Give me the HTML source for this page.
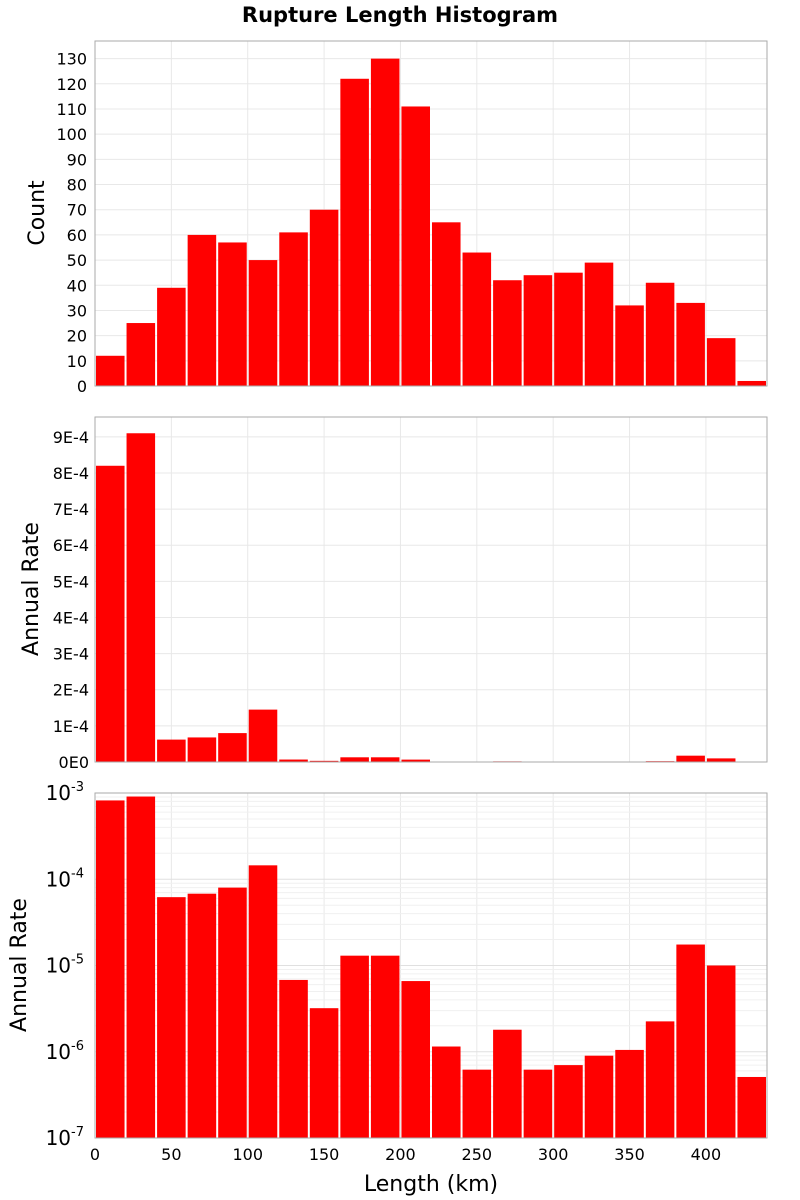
<!DOCTYPE html>
<html><head><meta charset="utf-8"><style>
body{margin:0;background:#fff}
svg{display:block;font-family:"DejaVu Sans","Liberation Sans",sans-serif}
</style></head><body>
<svg id="c" width="800" height="1200" xmlns="http://www.w3.org/2000/svg">
<text x="400" y="22" text-anchor="middle" font-size="21" font-weight="bold">Rupture Length Histogram</text>
</svg>
<script>
const binStarts=[0,20,40,60,80,100,120,140,160,180,200,220,240,260,280,300,320,340,360,380,400,420];
const counts=[12,25,39,60,57,50,61,70,122,130,111,65,53,42,44,45,49,32,41,33,19,2];
const rates=[8.2e-4,9.1e-4,6.2e-5,6.8e-5,8.0e-5,1.45e-4,6.8e-6,3.2e-6,1.3e-5,1.3e-5,6.6e-6,1.15e-6,6.2e-7,1.8e-6,6.2e-7,7.0e-7,9.0e-7,1.05e-6,2.25e-6,1.75e-5,1.0e-5,5.1e-7];
const xTicks=[0,50,100,150,200,250,300,350,400];
const countTicks=[0,10,20,30,40,50,60,70,80,90,100,110,120,130];
const rateTicks=[0,1e-4,2e-4,3e-4,4e-4,5e-4,6e-4,7e-4,8e-4,9e-4];
const rateTickLabels=["0E0","1E-4","2E-4","3E-4","4E-4","5E-4","6E-4","7E-4","8E-4","9E-4"];
const logTicks=[-3,-4,-5,-6,-7];
const binWidth=20;
const svg=document.getElementById('c');
const NS='http://www.w3.org/2000/svg';
const L=95,R=767,XMAX=440;
const x=v=>L+v/XMAX*(R-L);
function el(t,a,p){const e=document.createElementNS(NS,t);for(const k in a)e.setAttribute(k,a[k]);(p||svg).appendChild(e);return e;}
const panels=[{top:41,bot:386},{top:417,bot:762},{top:793,bot:1138}];
const y1=v=>386-v/137*(386-41);
const y2=v=>762-v/9.55e-4*(762-417);
const y3=v=>793+(-3-Math.log10(v))*(1138-793)/4;
panels.forEach((p,i)=>{
  xTicks.forEach(t=>{const g=el('line',{x1:x(t),x2:x(t),y1:p.top,y2:p.bot,stroke:'#e8e8e8'});
  });
});
countTicks.forEach(t=>{const g=el('line',{x1:L,x2:R,y1:y1(t),y2:y1(t),stroke:'#e8e8e8'});
 const tx=el('text',{x:87,y:y1(t)+6,'text-anchor':'end','font-size':16});tx.textContent=t;});
rateTicks.forEach((t,i)=>{const g=el('line',{x1:L,x2:R,y1:y2(t),y2:y2(t),stroke:'#e8e8e8'});
 const tx=el('text',{x:89,y:y2(t)+6,'text-anchor':'end','font-size':16});tx.textContent=rateTickLabels[i];});
for(let d=-7;d<-3;d++){for(let m=2;m<10;m++){const v=m*Math.pow(10,d);const g=el('line',{x1:L,x2:R,y1:y3(v),y2:y3(v),stroke:'#f0f0f0'});}}
logTicks.forEach(d=>{const v=Math.pow(10,d);const g=el('line',{x1:L,x2:R,y1:y3(v),y2:y3(v),stroke:'#e0e0e0'});
 const tx=el('text',{x:84,y:y3(v)+7,'text-anchor':'end','font-size':20});
 const a=el('tspan',{},tx);a.textContent='10';const b=el('tspan',{dy:-9,'font-size':13},tx);b.textContent=String(d);});
binStarts.forEach((s,i)=>{
 const bx=x(s)+1,bw=x(s+binWidth)-x(s)-2;
 const b1=el('rect',{x:bx,y:y1(counts[i]),width:bw,height:386-y1(counts[i]),fill:'#ff0000'});
 const b2=el('rect',{x:bx,y:y2(rates[i]),width:bw,height:762-y2(rates[i]),fill:'#ff0000'});
 const yy=y3(rates[i]);const b3=el('rect',{x:bx,y:yy,width:bw,height:1138-yy,fill:'#ff0000'});
});
panels.forEach(p=>{const f=el('rect',{x:L,y:p.top,width:R-L,height:p.bot-p.top,fill:'none',stroke:'#aaa'});});
xTicks.forEach(t=>{const tx=el('text',{x:x(t),y:1160,'text-anchor':'middle','font-size':16});tx.textContent=t;});
function title(txt,cx,cy,rot,name){const t=el('text',{x:cx,y:cy,'text-anchor':'middle','font-size':22,transform:rot?`rotate(-90 ${cx} ${cy})`:''});t.textContent=txt;}
title('Count',44,213,true,'count-axis-title');
title('Annual Rate',38,589,true,'rate-axis-title');
title('Annual Rate',26,965,true,'log-rate-axis-title');
title('Length (km)',431,1191,false,'x-axis-title');
</script>
</body></html>
